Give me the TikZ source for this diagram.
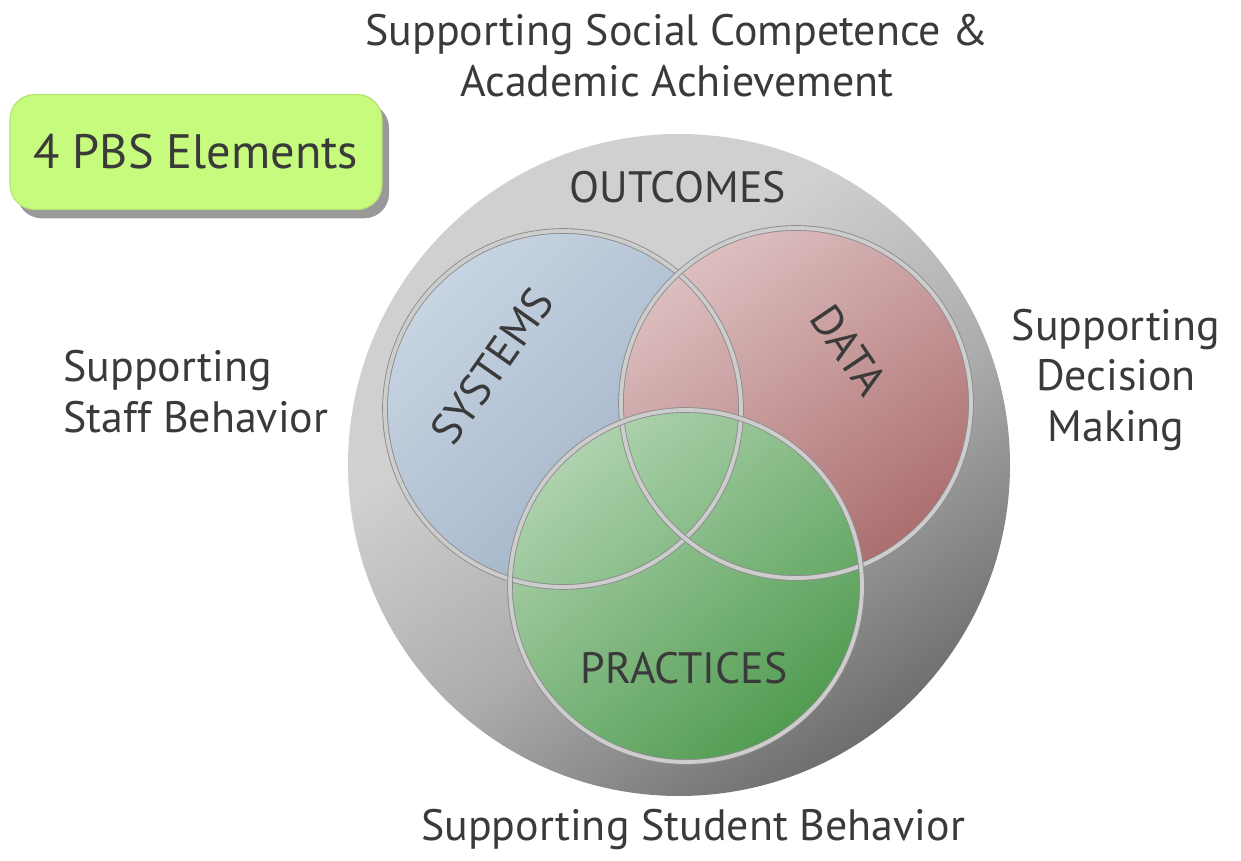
\documentclass[tikz,border=0pt]{standalone}
\usepackage{fontspec}
\setmainfont{PT Sans}
\usetikzlibrary{shadows}

\definecolor{txtgray}{HTML}{3A3A3A}
\definecolor{boxgreen}{HTML}{C6FB7E}
\definecolor{boxedge}{HTML}{B4E273}
\definecolor{ringlight}{HTML}{D0D0D0}
\definecolor{ringmid}{HTML}{ACACAC}
\definecolor{ringdark}{HTML}{6E6E6E}
\definecolor{syslight}{HTML}{C7D4E2}
\definecolor{sysdark}{HTML}{9DAFC4}
\definecolor{datalight}{HTML}{DDBFC0}
\definecolor{datadark}{HTML}{AC6E6F}
\definecolor{praclight}{HTML}{AED2AE}
\definecolor{pracdark}{HTML}{519C51}
\definecolor{rimlight}{HTML}{CDCDCD}
\definecolor{rimdark}{HTML}{8C8C8C}

\pgfdeclareverticalshading{ringshade}{100bp}{color(0bp)=(ringdark); color(25bp)=(ringdark);
  color(44bp)=(ringmid); color(62bp)=(ringlight); color(100bp)=(ringlight)}

\tikzset{
  caption/.style={text=txtgray, font=\fontsize{25}{29}\selectfont, align=center, inner sep=0pt},
  setname/.style={text=txtgray, font=\fontsize{25}{29}\selectfont, inner sep=0pt},
  rim/.style={draw=rimdark, line width=0.5pt, double=rimlight, double distance=2.2pt},
}

\begin{document}
\begin{tikzpicture}[x=0.02cm, y=-0.02cm]

      \useasboundingbox (0,0) rectangle (1241,861);

      % title box
      \node[draw=boxedge, line width=0.6pt, fill=boxgreen, rounded corners=14pt,
            minimum width=372*0.02cm, minimum height=115*0.02cm,
            drop shadow={shadow xshift=4pt, shadow yshift=-5pt, opacity=.8},
            text=txtgray, font=\fontsize{27.5}{32}\selectfont] (title) at (196,152) {4 PBS Elements};

      % outer ring
      \shade[shading=ringshade, shading angle=35] (679,465) circle[radius=331];

      % the three sets
      \shade[top color=syslight, bottom color=sysdark, shading angle=45] (563,409) circle[radius=178];
      \shade[top color=datalight, bottom color=datadark, shading angle=35] (796,403) circle[radius=175];
      \shade[top color=praclight, bottom color=pracdark, shading angle=40] (686,586) circle[radius=176];

      \draw[rim] (563,409) circle[radius=178];
      \draw[rim] (796,403) circle[radius=175];
      \draw[rim] (686,586) circle[radius=176];

      \begin{scope}[every node/.style={setname}]
        \node (outcomes)  at (678,187) {OUTCOMES};
        \node[rotate=55]  (systems) at (492,366) {SYSTEMS};
        \node[rotate=-56] (data)    at (849,350) {DATA};
        \node (practices) at (684,668) {PRACTICES};
      \end{scope}

      \begin{scope}[every node/.style={caption}]
        \node (social)   at (677,56)  {Supporting Social Competence \&\\Academic Achievement};
        \node[align=left, anchor=west] (staff) at (63,392) {Supporting\\Staff Behavior};
        \node (decision) at (1116,380) {Supporting\\Decision\\Making};
        \node (student)  at (693,830) {Supporting Student Behavior};
      \end{scope}

    \end{tikzpicture}
\end{document}
